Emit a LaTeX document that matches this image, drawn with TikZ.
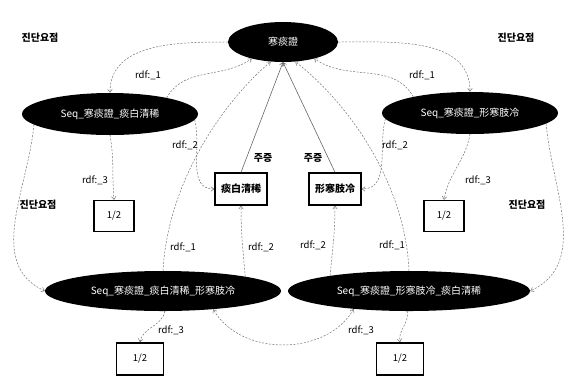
\documentclass[tikz,border=0pt]{standalone}
\usepackage{fontspec}
\setmainfont{Noto Sans CJK KR}
\usetikzlibrary{shapes.geometric, arrows.meta, positioning}
\tikzset{
    seqnode/.style={ellipse, fill=black, text=white, inner sep=1pt, font=\fontsize{10}{12}\selectfont},
    symbox/.style={rectangle, draw=black, line width=1.4pt, fill=white, minimum width=52pt, minimum height=32pt, inner sep=1pt, font=\bfseries\fontsize{10}{12}\selectfont},
    wbox/.style={rectangle, draw=black, line width=1.4pt, fill=white, minimum width=40pt, minimum height=31pt, inner sep=1pt, font=\fontsize{9.5}{11}\selectfont},
    rdflabel/.style={font=\fontsize{9.5}{11}\selectfont, inner sep=1pt},
    keylabel/.style={font=\bfseries\fontsize{10}{12}\selectfont, inner sep=1pt},
    arrow/.style={draw=black!55, dash pattern=on 2pt off 1.5pt, line width=0.5pt, -{Straight Barb[length=3pt,width=4.5pt]}},
    mainarrow/.style={draw=black!60, line width=0.6pt, -{Straight Barb[length=3pt,width=4.5pt]}}
}

\begin{document}
\begin{tikzpicture}[x=1pt, y=1pt]
    \useasboundingbox (0,0) rectangle (564,-376);
    % Syndrome node
    \node (top) [seqnode, minimum width=110pt, minimum height=40pt] at (283,-42) {寒痰證};
    % Sequence nodes
    \node (seqA) [seqnode, minimum width=176pt, minimum height=42pt] at (110,-114) {Seq\_寒痰證\_痰白清稀};
    \node (seqB) [seqnode, minimum width=176pt, minimum height=42pt] at (470,-113) {Seq\_寒痰證\_形寒肢冷};
    \node (seqAB) [seqnode, minimum width=236pt, minimum height=40pt] at (163,-291) {Seq\_寒痰證\_痰白清稀\_形寒肢冷};
    \node (seqBA) [seqnode, minimum width=242pt, minimum height=40pt] at (409,-291) {Seq\_寒痰證\_形寒肢冷\_痰白清稀};
    % Symptom boxes
    \node (symA) [symbox] at (241,-189) {痰白清稀};
    \node (symB) [symbox] at (335,-189) {形寒肢冷};
    % Weight boxes
    \node (wA) [wbox] at (114,-216) {1/2};
    \node (wB) [wbox] at (444,-216) {1/2};
    \node (wAB) [wbox, minimum width=47pt, minimum height=32pt] at (140,-359) {1/2};
    \node (wBA) [wbox, minimum width=47pt, minimum height=32pt] at (400,-359) {1/2};

    % Diagnostic key points
    \draw [arrow] (top.west) to[out=180, in=90] (seqA.north);
    \draw [arrow] (top.east) to[out=0, in=90] (seqB.north);
    \draw [arrow] (seqA.188) to[out=-95, in=155] (seqAB.west);
    \draw [arrow] (seqB.-8) to[out=-85, in=25] (seqBA.east);
    \node (kA) [keylabel] at (40,-38) {진단요점};
    \node (kB) [keylabel] at (516,-38) {진단요점};
    \node (kAB) [keylabel] at (38,-205) {진단요점};
    \node (kBA) [keylabel] at (527,-205) {진단요점};

    % Upper sequences
    \draw [arrow] (seqA.16) to[out=60, in=215] (top.208);
    \draw [arrow] (seqB.164) to[out=120, in=-35] (top.332);
    \draw [arrow] (seqA.-4) to[out=-75, in=180] (symA.west);
    \draw [arrow] (seqB.184) to[out=-105, in=0] (symB.east);
    \draw [arrow] (seqA.south) to[out=-80, in=95] (wA.north);
    \draw [arrow] (seqB.south) to[out=-100, in=80] (wB.north);
    \node (rA1) [rdflabel] at (148,-75) {rdf:\_1};
    \node (rB1) [rdflabel] at (422,-75) {rdf:\_1};
    \node (rA2) [rdflabel] at (185,-145) {rdf:\_2};
    \node (rB2) [rdflabel] at (395,-145) {rdf:\_2};
    \node (rA3) [rdflabel] at (95,-180) {rdf:\_3};
    \node (rB3) [rdflabel] at (478,-180) {rdf:\_3};

    % Main symptoms
    \draw [mainarrow] (symA.north) -- (top.south);
    \draw [mainarrow] (symB.north) -- (top.south);
    \node (mA) [keylabel] at (263,-158) {주증};
    \node (mB) [keylabel] at (313,-158) {주증};

    % Lower sequences
    \draw [arrow] (seqAB.north) .. controls (168,-180) and (225,-100) .. (top.238);
    \draw [arrow] (seqBA.north) .. controls (405,-180) and (345,-100) .. (top.302);
    \draw [arrow] (seqAB.10) to[out=95, in=-90] (symA.south);
    \draw [arrow] (seqBA.169) to[out=85, in=-90] (symB.south);
    \draw [arrow] (seqAB.-85) to[out=-100, in=80] (wAB.north);
    \draw [arrow] (seqBA.-95) to[out=-80, in=100] (wBA.north);
    \draw [arrow, {Straight Barb[length=3pt,width=4.5pt]}-{Straight Barb[length=3pt,width=4.5pt]}] (seqBA.198) to[out=-120, in=-60] (seqAB.-20);
    \node (rAB1) [rdflabel] at (183,-247) {rdf:\_1};
    \node (rAB2) [rdflabel] at (261,-247) {rdf:\_2};
    \node (rBA2) [rdflabel] at (313,-245) {rdf:\_2};
    \node (rBA1) [rdflabel] at (392,-245) {rdf:\_1};
    \node (rAB3) [rdflabel] at (171,-330) {rdf:\_3};
    \node (rBA3) [rdflabel] at (361,-330) {rdf:\_3};
\end{tikzpicture}
\end{document}
